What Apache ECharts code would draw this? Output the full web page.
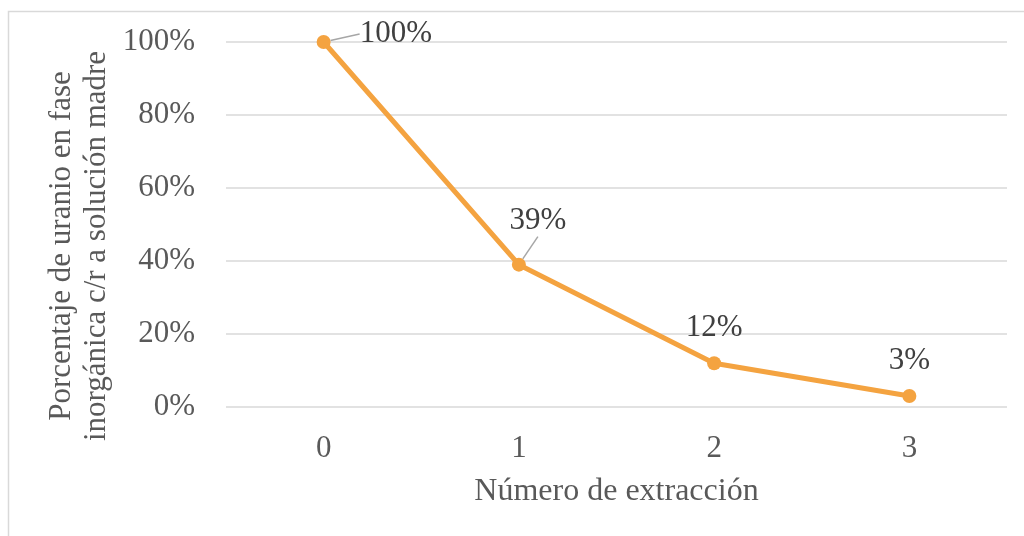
<!DOCTYPE html>
<html>
<head>
<meta charset="utf-8">
<style>
  html, body { margin: 0; padding: 0; background: #ffffff; }
  #chart { width: 1024px; height: 536px; }
</style>
<script src="https://cdn.jsdelivr.net/npm/echarts@6/dist/echarts.min.js"></script>
</head>
<body>
<div id="chart"></div>
<script>
// Extraction number and percentage of uranium remaining in the inorganic phase
const categories = ['0', '1', '2', '3'];
const values = [100, 39, 12, 3];
const yTicks = [0, 20, 40, 60, 80, 100];

const FONT = '"Liberation Serif", "Times New Roman", serif';
const AXIS_TEXT = '#595959';
const LABEL_TEXT = '#404040';
const LINE_COLOR = '#F4A340';

const chart = echarts.init(document.getElementById('chart'), null, { renderer: 'canvas' });

// per-point label placement (leader lines for the first two)
const labelPlacement = [
  { position: 'right', dx: 24, dy: -8, line: true },
  { position: 'top', dx: 19, dy: -16, line: true },
  { position: 'top', dx: 0, dy: -8, line: false },
  { position: 'top', dx: 0, dy: -8, line: false }
];

const seriesData = values.map((v, i) => ({
  value: v,
  label: { position: labelPlacement[i].position },
  labelLine: { show: labelPlacement[i].line, lineStyle: { color: '#A6A6A6', width: 1.5 } }
}));

chart.setOption({
  animation: false,
  backgroundColor: '#ffffff',
  grid: { left: 226, right: 17, top: 42, bottom: 129 },
  graphic: [
    {
      type: 'rect',
      shape: { x: 8.5, y: 11.5, width: 1040, height: 560 },
      style: { fill: 'none', stroke: '#D9D9D9', lineWidth: 1.5 },
      silent: true
    },
    {
      type: 'text',
      x: 79,
      y: 246,
      rotation: Math.PI / 2,
      style: {
        text: 'Porcentaje de uranio en fase\ninorgánica c/r a solución madre',
        font: '31px ' + FONT,
        fill: AXIS_TEXT,
        align: 'center',
        verticalAlign: 'middle',
        lineHeight: 35
      }
    }
  ],
  xAxis: {
    type: 'category',
    data: categories,
    boundaryGap: true,
    axisLine: { show: false },
    axisTick: { show: false },
    axisLabel: { color: AXIS_TEXT, fontFamily: FONT, fontSize: 31, margin: 26 },
    name: 'Número de extracción',
    nameLocation: 'middle',
    nameGap: 69,
    nameTextStyle: { color: AXIS_TEXT, fontFamily: FONT, fontSize: 32 }
  },
  yAxis: {
    type: 'value',
    min: yTicks[0],
    max: yTicks[yTicks.length - 1],
    interval: 20,
    axisLine: { show: false },
    axisTick: { show: false },
    splitLine: { lineStyle: { color: '#D9D9D9', width: 1.5 } },
    axisLabel: {
      color: AXIS_TEXT, fontFamily: FONT, fontSize: 31, margin: 31,
      formatter: v => v + '%'
    }
  },
  series: [{
    type: 'line',
    data: seriesData,
    symbol: 'circle',
    symbolSize: 14,
    itemStyle: { color: LINE_COLOR },
    lineStyle: { color: LINE_COLOR, width: 5 },
    label: {
      show: true,
      color: LABEL_TEXT,
      fontFamily: FONT,
      fontSize: 31,
      distance: 5,
      formatter: p => p.value + '%'
    },
    labelLayout: function (params) {
      const p = labelPlacement[params.dataIndex];
      return { dx: p.dx, dy: p.dy };
    },
    z: 3
  }]
});
</script>
</body>
</html>
